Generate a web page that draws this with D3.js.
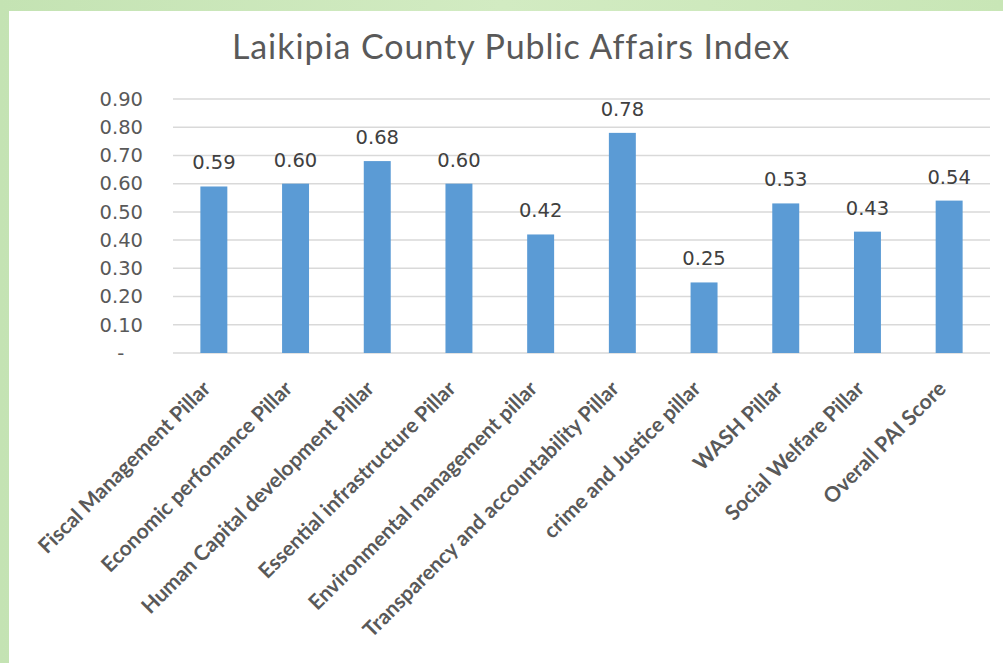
<!DOCTYPE html>
<html>
<head>
<meta charset="utf-8">
<script src="https://cdn.jsdelivr.net/npm/d3@7"></script>
<style>
  body { margin: 0; overflow: hidden; }
  svg { display: block; }
</style>
</head>
<body>
<svg id="chart" width="1003" height="663"></svg>
<script>
  // chart data
  const categories = [
    "Fiscal Management Pillar",
    "Economic perfomance Pillar",
    "Human Capital development Pillar",
    "Essential infrastructure Pillar",
    "Environmental management pillar",
    "Transparency and accountability Pillar",
    "crime and Justice pillar",
    "WASH Pillar",
    "Social Welfare Pillar",
    "Overall PAI Score"
  ];
  const values = [0.59, 0.60, 0.68, 0.60, 0.42, 0.78, 0.25, 0.53, 0.43, 0.54];
  const yTicks = [0, 0.1, 0.2, 0.3, 0.4, 0.5, 0.6, 0.7, 0.8, 0.9];
  const title = "Laikipia County Public Affairs Index";

  const svg = d3.select("#chart");
  const width = 1003, height = 663;

  // green frame around the white chart panel
  const defs = svg.append("defs");
  const grad = defs.append("linearGradient")
      .attr("id", "frame")
      .attr("x1", "0").attr("y1", "0").attr("x2", "1").attr("y2", "0");
  grad.append("stop").attr("offset", "0%").attr("stop-color", "#c4e3b3");
  grad.append("stop").attr("offset", "50%").attr("stop-color", "#d2ebc2");
  grad.append("stop").attr("offset", "100%").attr("stop-color", "#c8e6b6");

  svg.append("rect")
      .attr("width", width).attr("height", height)
      .attr("fill", "url(#frame)");
  svg.append("rect")
      .attr("x", 9).attr("y", 11)
      .attr("width", width - 9).attr("height", height - 11)
      .attr("fill", "#ffffff");

  // plot area
  const margin = {left: 173, right: 13, top: 99, bottom: 310};
  const plotW = width - margin.left - margin.right;
  const plotH = height - margin.top - margin.bottom;

  const x = d3.scaleBand()
      .domain(categories)
      .range([margin.left, margin.left + plotW])
      .paddingInner(0.67)
      .paddingOuter(0.335);

  const y = d3.scaleLinear()
      .domain([0, 0.9])
      .range([margin.top + plotH, margin.top]);

  // title, fitted to the width of the original
  const titleText = svg.append("text")
      .attr("x", 511)
      .attr("y", 59)
      .attr("text-anchor", "middle")
      .style("font-family", "Lato, 'Open Sans', sans-serif")
      .style("font-size", "34px")
      .style("fill", "#595959")
      .text(title);
  const tw = titleText.node().getComputedTextLength();
  titleText.style("letter-spacing", ((557 - tw) / title.length) + "px");

  // gridlines
  svg.append("g")
    .selectAll("line")
    .data(yTicks)
    .enter()
    .append("line")
      .attr("x1", margin.left)
      .attr("x2", margin.left + plotW)
      .attr("y1", d => y(d))
      .attr("y2", d => y(d))
      .attr("stroke", "#d9d9d9")
      .attr("stroke-width", 1.5);

  // y axis labels (accounting style: zero shown as a dash)
  const yAxis = d3.axisLeft(y)
      .tickValues(yTicks)
      .tickSize(0)
      .tickPadding(30)
      .tickFormat(d => d === 0 ? "-   " : d3.format(".2f")(d));

  svg.append("g")
      .attr("transform", "translate(" + margin.left + ",0)")
      .call(yAxis)
      .call(g => g.select(".domain").remove())
      .call(g => g.selectAll("text")
          .style("font-family", "'DejaVu Sans', Verdana, sans-serif")
          .style("font-size", "19.5px")
          .style("fill", "#595959")
          .style("white-space", "pre"));

  // bars
  svg.append("g")
    .selectAll("rect")
    .data(values)
    .enter()
    .append("rect")
      .attr("x", (d, i) => x(categories[i]))
      .attr("y", d => y(d))
      .attr("width", x.bandwidth())
      .attr("height", d => y(0) - y(d))
      .attr("fill", "#5b9bd5");

  // value labels
  svg.append("g")
    .selectAll("text")
    .data(values)
    .enter()
    .append("text")
      .attr("x", (d, i) => x(categories[i]) + x.bandwidth() / 2)
      .attr("y", d => y(d) - 17)
      .attr("text-anchor", "middle")
      .style("font-family", "'DejaVu Sans', Verdana, sans-serif")
      .style("font-size", "19.5px")
      .style("fill", "#404040")
      .text(d => d3.format(".2f")(d));

  // rotated category labels
  svg.append("g")
    .selectAll("text")
    .data(categories)
    .enter()
    .append("text")
      .attr("transform", d => "translate(" + (x(d) + x.bandwidth() / 2 - 2) + "," + 390 + ") rotate(-45)")
      .attr("text-anchor", "end")
      .style("font-family", "Lato, 'Open Sans', sans-serif")
      .style("font-weight", "bold")
      .style("font-size", "21px")
      .style("fill", "#595959")
      .text(d => d);
</script>
</body>
</html>
